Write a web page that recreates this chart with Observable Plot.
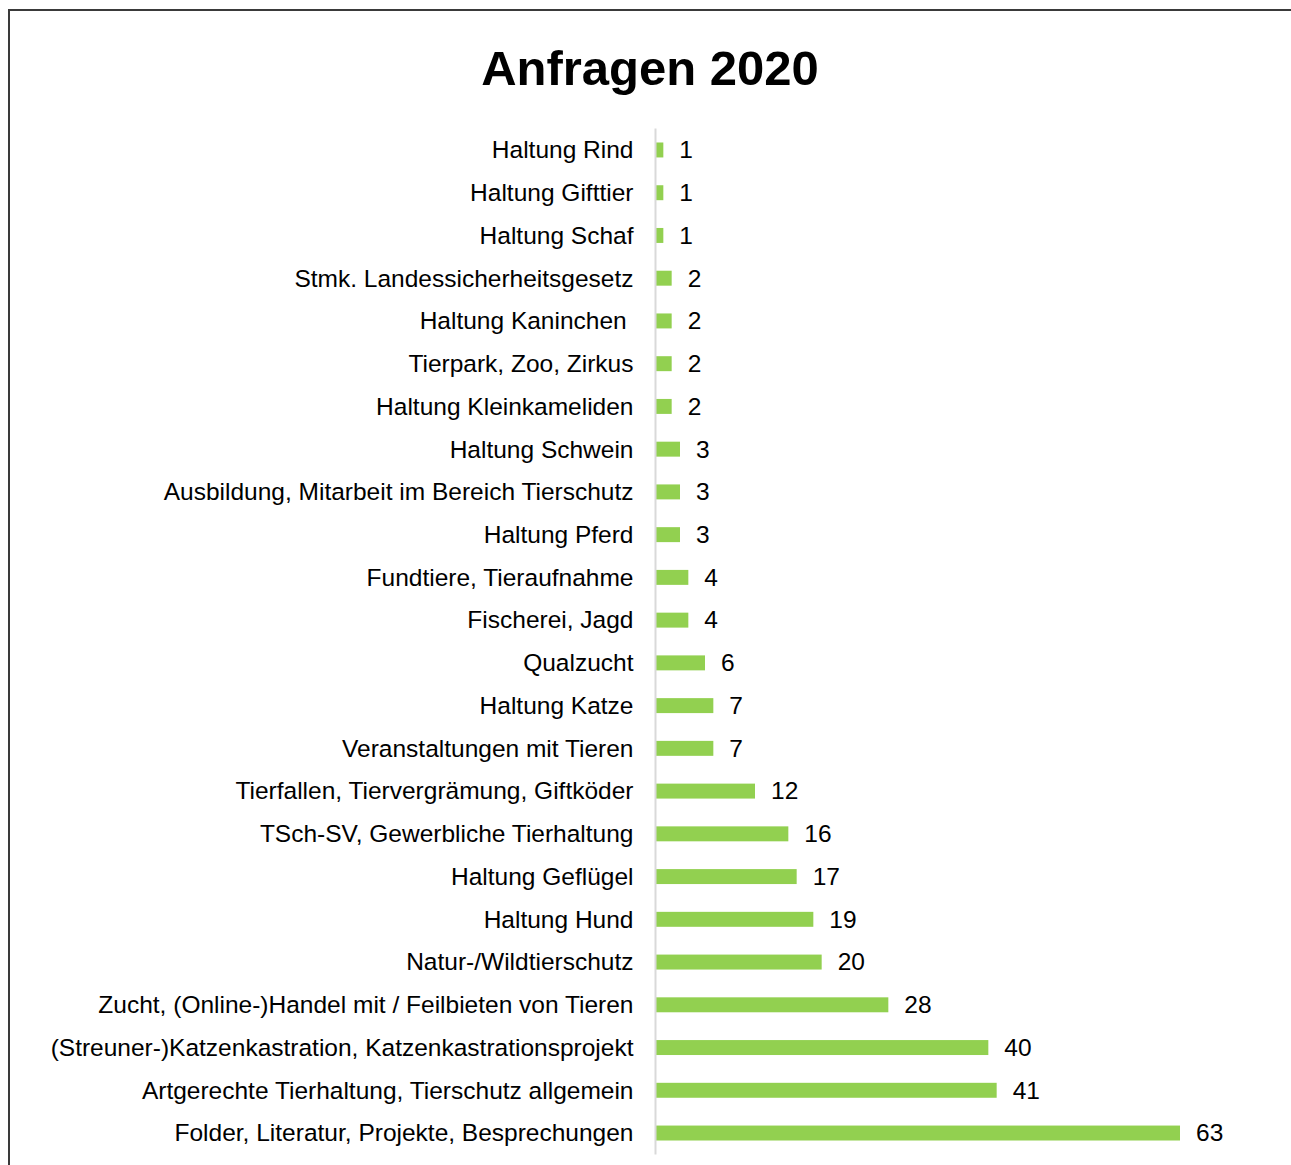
<!DOCTYPE html>
<html>
<head>
<meta charset="utf-8">
<script src="https://cdn.jsdelivr.net/npm/d3@7"></script>
<script src="https://cdn.jsdelivr.net/npm/@observablehq/plot@0.6"></script>
<style>
  html, body { margin: 0; padding: 0; background: #fff; }
  body { width: 1291px; height: 1165px; position: relative; overflow: hidden; font-family: "Liberation Sans", Arial, sans-serif; }
  #frame { position: absolute; left: 8px; top: 9px; width: 1400px; height: 1300px; border: 2px solid #3a3a3a; box-sizing: border-box; }
  #title { position: absolute; left: 0; width: 1300px; top: 40px; text-align: center; font-size: 49px; font-weight: bold; color: #000; line-height: 56px; margin: 0; }
  #chart { position: absolute; left: 0; top: 0; }
</style>
</head>
<body>
<div id="frame"></div>
<div id="title">Anfragen 2020</div>
<div id="chart"></div>
<script>
const categories = [
  "Haltung Rind",
  "Haltung Gifttier",
  "Haltung Schaf",
  "Stmk. Landessicherheitsgesetz",
  "Haltung Kaninchen\u00a0",
  "Tierpark, Zoo, Zirkus",
  "Haltung Kleinkameliden",
  "Haltung Schwein",
  "Ausbildung, Mitarbeit im Bereich Tierschutz",
  "Haltung Pferd",
  "Fundtiere, Tieraufnahme",
  "Fischerei, Jagd",
  "Qualzucht",
  "Haltung Katze",
  "Veranstaltungen mit Tieren",
  "Tierfallen, Tiervergrämung, Giftköder",
  "TSch-SV, Gewerbliche Tierhaltung",
  "Haltung Geflügel",
  "Haltung Hund",
  "Natur-/Wildtierschutz",
  "Zucht, (Online-)Handel mit / Feilbieten von Tieren",
  "(Streuner-)Katzenkastration, Katzenkastrationsprojekt",
  "Artgerechte Tierhaltung, Tierschutz allgemein",
  "Folder, Literatur, Projekte, Besprechungen"
];
const values = [1, 1, 1, 2, 2, 2, 2, 3, 3, 3, 4, 4, 6, 7, 7, 12, 16, 17, 19, 20, 28, 40, 41, 63];

const data = categories.map((c, i) => ({category: c, value: values[i]}));

const chart = Plot.plot({
  width: 1291,
  height: 1165,
  marginLeft: 655,
  marginRight: 111,
  marginTop: 128.6,
  marginBottom: 10.6,
  style: {fontFamily: "'Liberation Sans', Arial, sans-serif", fontSize: "24.5px", color: "#000", background: "transparent"},
  x: {domain: [0, 63], axis: null},
  y: {domain: categories, paddingInner: 0.65, paddingOuter: 0.325, round: false, label: null},
  marks: [
    Plot.barX(data, {x: "value", y: "category", fill: "#92d050"}),
    Plot.ruleX([0], {stroke: "#d9d9d9", strokeWidth: 2}),
    Plot.axisY({tickSize: 0, tickPadding: 22, fontSize: 24.5, fill: "#000", label: null}),
    Plot.text(data, {x: "value", y: "category", text: d => String(d.value), textAnchor: "start", dx: 15.5, fontSize: 24.5, fill: "#000"})
  ]
});
document.getElementById("chart").appendChild(chart);
</script>
</body>
</html>
